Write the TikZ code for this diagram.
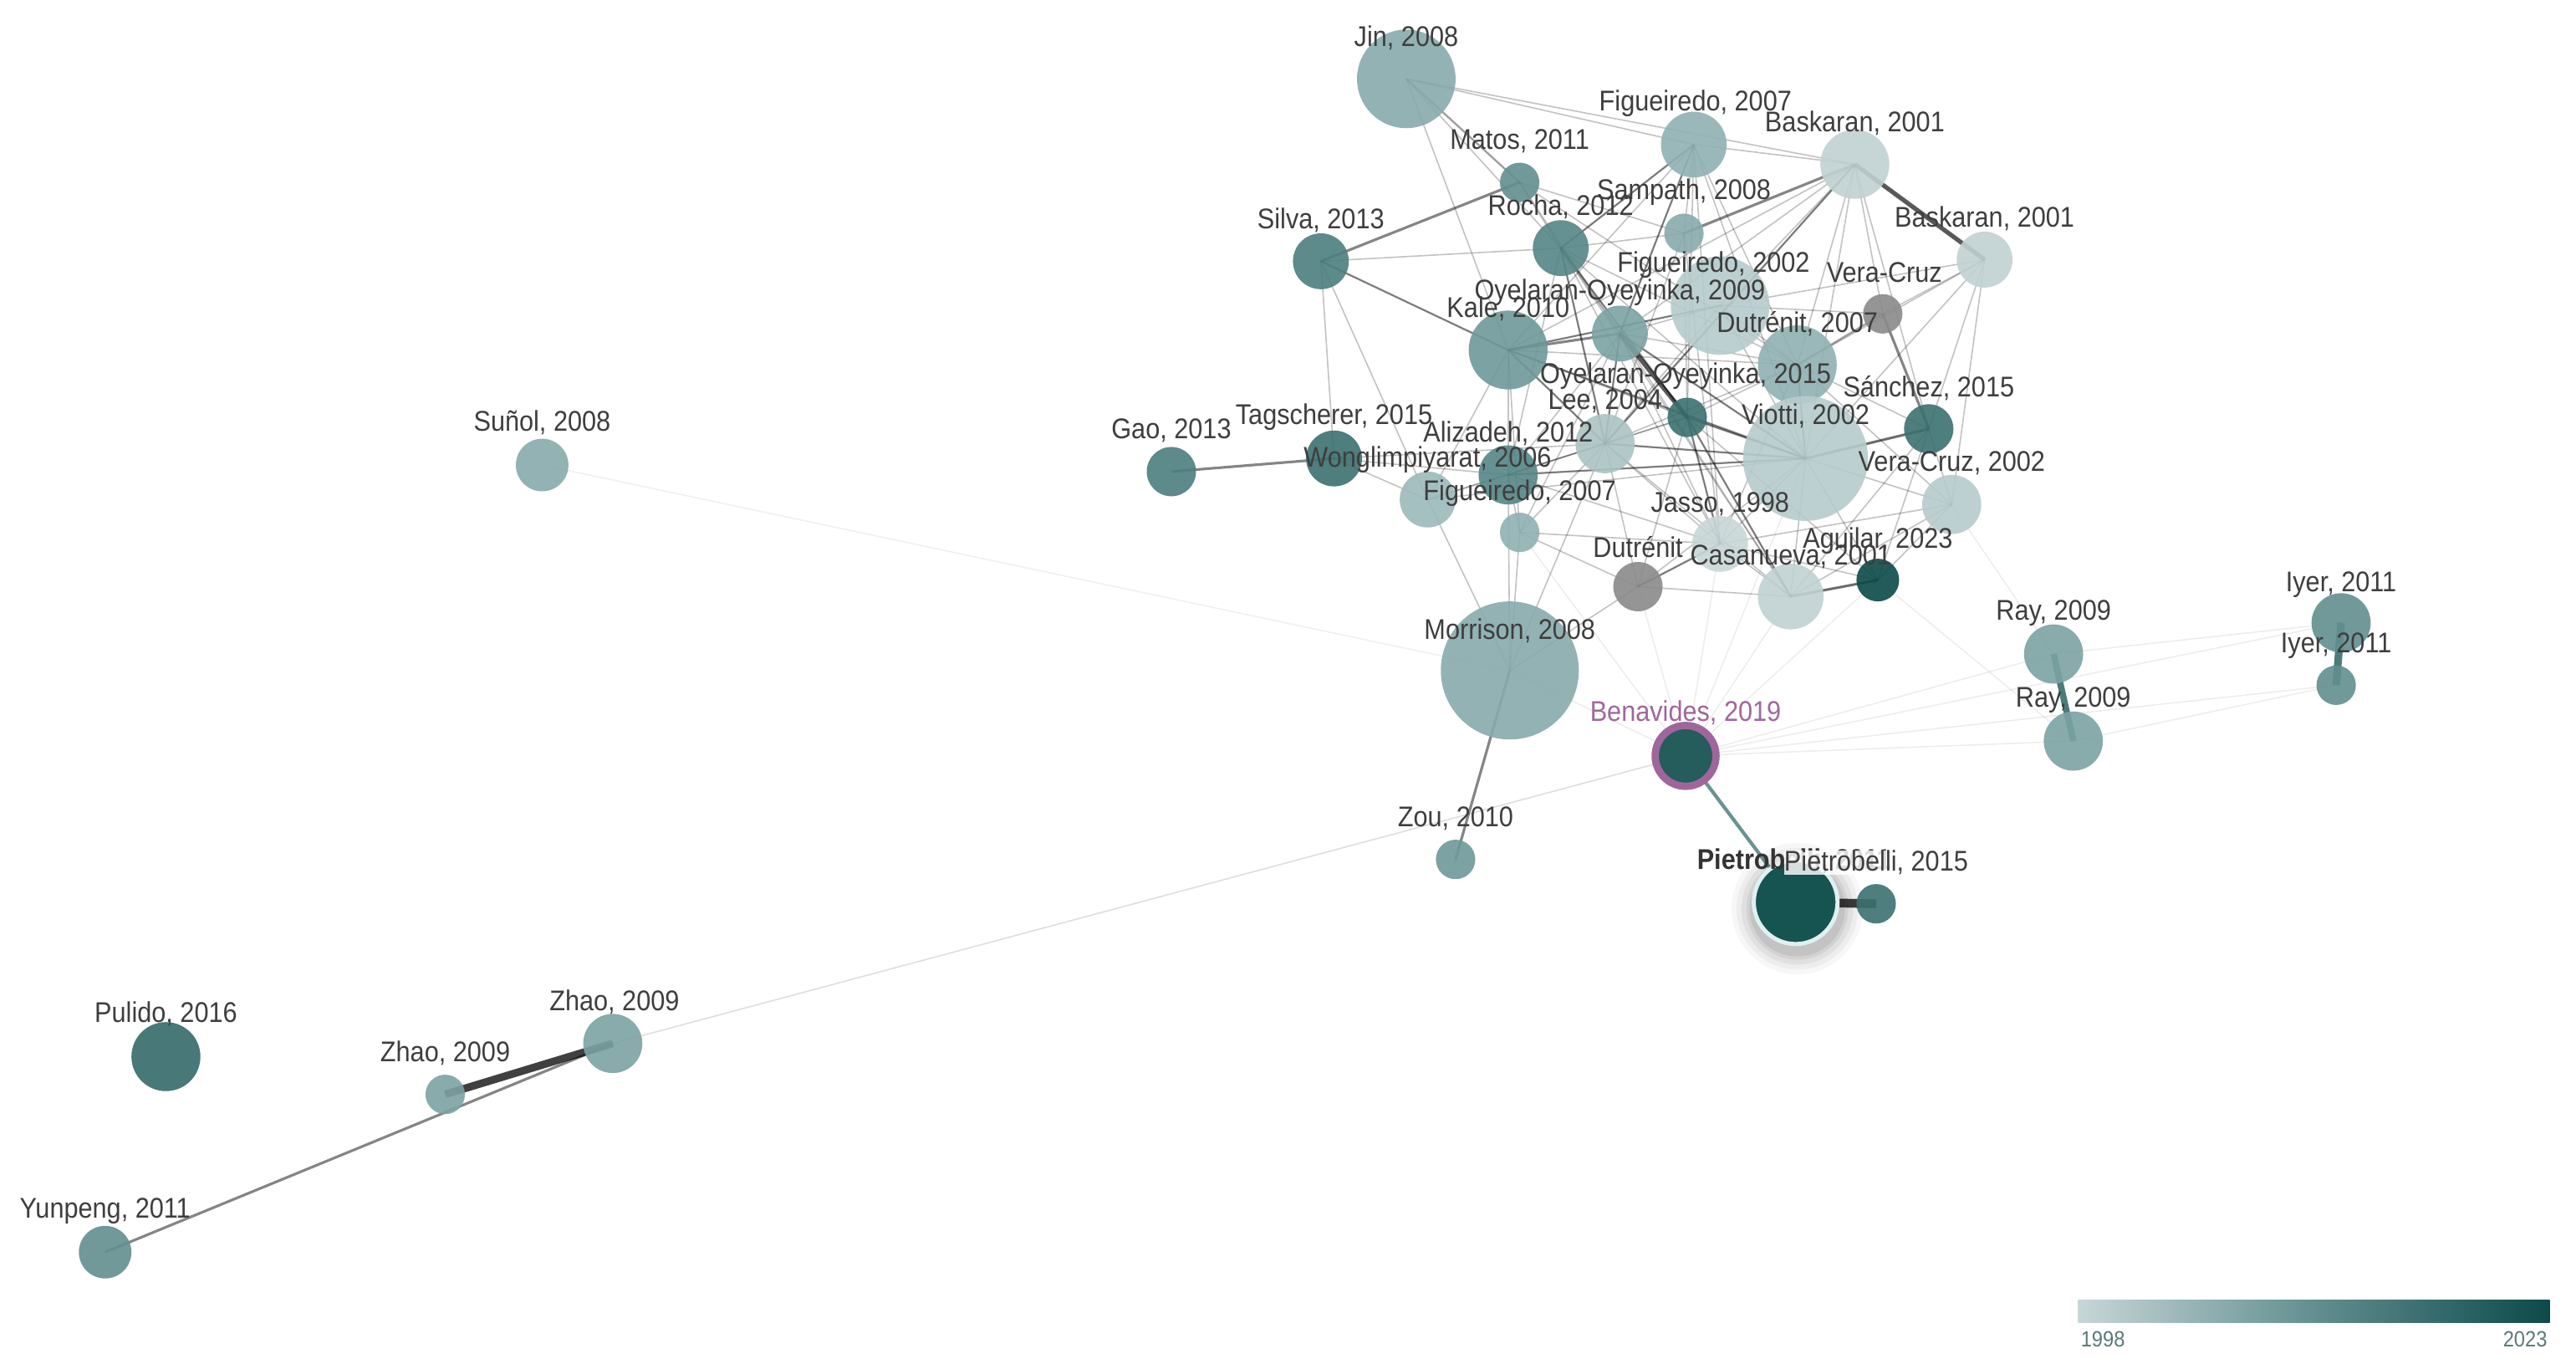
\documentclass[tikz,border=0pt]{standalone}
\usepackage{fontspec}
\setmainfont{Liberation Sans}[FakeStretch=0.9]
\usetikzlibrary{calc}
\pgfdeclarelayer{edgelayer}
\pgfdeclarelayer{glowlayer}
\pgfsetlayers{edgelayer,glowlayer,main}
\definecolor{y1998}{RGB}{200,214,215}
\definecolor{y2001}{RGB}{192,209,210}
\definecolor{y2002}{RGB}{182,203,204}
\definecolor{y2004}{RGB}{170,195,196}
\definecolor{y2006}{RGB}{156,186,187}
\definecolor{y2007}{RGB}{144,177,178}
\definecolor{y2008}{RGB}{136,170,171}
\definecolor{y2009}{RGB}{124,162,163}
\definecolor{y2010}{RGB}{110,152,153}
\definecolor{y2011}{RGB}{98,143,144}
\definecolor{y2012}{RGB}{86,134,135}
\definecolor{y2013}{RGB}{76,126,127}
\definecolor{y2015}{RGB}{60,112,113}
\definecolor{y2016}{RGB}{54,106,107}
\definecolor{y2019}{RGB}{36,93,92}
\definecolor{y2023}{RGB}{12,74,73}
\definecolor{pieC}{RGB}{22,84,81}
\definecolor{grayN}{RGB}{138,138,138}
\definecolor{labelC}{RGB}{62,62,62}
\definecolor{purpleC}{RGB}{160,102,156}
\definecolor{barTxt}{RGB}{90,122,122}
\definecolor{tealEdge}{RGB}{45,100,100}
\begin{document}
\begin{tikzpicture}[x=0.01965cm,y=-0.01965cm,
  pn/.style={circle, inner sep=0pt, minimum size=#1*0.0393cm, fill opacity=0.9, draw=none},
  lbl/.style={font=\fontsize{9.7}{11}\selectfont, text=labelC, inner sep=0pt},
  faint/.style={draw=black, line width=0.45pt, opacity=0.24},
  softe/.style={draw=black, line width=0.65pt, opacity=0.38},
  mide/.style={draw=black, line width=0.9pt, opacity=0.48},
  stronge/.style={draw=black, line width=1.5pt, opacity=0.65}]
\useasboundingbox (0,0) rectangle (1568,833);

% ---- nodes ----
\node[pn=30, fill=y2008] (jin) at (856,48) {};
\node[pn=20, fill=y2007] (fig07a) at (1031,88) {};
\node[pn=21, fill=y2001] (bas01a) at (1129,100) {};
\node[pn=12, fill=y2011] (matos) at (925,111) {};
\node[pn=12, fill=y2008] (samp) at (1025,142) {};
\node[pn=17, fill=y2012] (rocha) at (950,151) {};
\node[pn=17, fill=y2013] (silva) at (804,159) {};
\node[pn=17, fill=y2001] (bas01b) at (1208,158) {};
\node[pn=30, fill=y2002] (fig02) at (1047,186) {};
\node[pn=12, fill=grayN] (vcg) at (1146,191) {};
\node[pn=17, fill=y2009] (oye09) at (986,203) {};
\node[pn=24, fill=y2010] (kale) at (918,213) {};
\node[pn=24, fill=y2007] (dut07) at (1094,222) {};
\node[pn=12, fill=y2015] (oye15) at (1027,254) {};
\node[pn=18, fill=y2004] (lee) at (977,270) {};
\node[pn=15, fill=y2015] (sanc) at (1174,261) {};
\node[pn=38, fill=y2002] (viotti) at (1099,279) {};
\node[pn=18, fill=y2012] (aliz) at (918,289) {};
\node[pn=17, fill=y2015] (tag) at (812,279) {};
\node[pn=15, fill=y2013] (gao) at (713,287) {};
\node[pn=17, fill=y2006] (wong) at (869,304) {};
\node[pn=12, fill=y2007] (fig07b) at (925,324) {};
\node[pn=18, fill=y2002] (vc02) at (1188,307) {};
\node[pn=17, fill=y1998] (jasso) at (1047,331) {};
\node[pn=15, fill=grayN] (dutg) at (997,357) {};
\node[pn=20, fill=y2001] (casa) at (1090,363) {};
\node[pn=13, fill=y2023] (agui) at (1143,353) {};
\node[pn=42, fill=y2008] (morr) at (919,408) {};
\node[pn=18, fill=y2009] (ray1) at (1250,398) {};
\node[pn=18, fill=y2009] (ray2) at (1262,451) {};
\node[pn=18, fill=y2011] (iyer1) at (1425,379) {};
\node[pn=12, fill=y2011] (iyer2) at (1422,417) {};
\node[circle, inner sep=0pt, minimum size=37*0.0393cm/2, fill=y2019, draw=purpleC, line width=2.5pt] (bena) at (1026,460) {};
\node[pn=12, fill=y2010] (zou) at (886,523) {};
\node[circle, inner sep=0pt, minimum size=51*0.0393cm/2, fill=pieC, draw=white!88!teal, line width=1.4pt] (pie11) at (1093,549) {};
\node[pn=12, fill=y2015] (pie15) at (1142,550) {};
\node[pn=16, fill=y2008] (sunol) at (330,283) {};
\node[pn=21, fill=y2016] (pulido) at (101,643) {};
\node[pn=18, fill=y2009] (zhao1) at (373,635) {};
\node[pn=12, fill=y2009] (zhao2) at (271,666) {};
\node[pn=16, fill=y2011] (yun) at (64,762) {};

% ---- glow under the selected node ----
\begin{pgfonlayer}{glowlayer}
\foreach \r/\o in {40/0.03,37/0.04,34/0.05,31/0.06,29/0.07}
  \fill[black, opacity=\o] ($(pie11.center)+(1,4)$) circle (\r);
\end{pgfonlayer}

% ---- edges ----
\begin{pgfonlayer}{edgelayer}
\fill[white] (0,0) rectangle (1568,833);
\foreach \a/\b in {jin/fig07a, jin/bas01a, jin/rocha, jin/kale, silva/kale, silva/rocha, silva/tag, silva/wong,
  fig07a/rocha, fig07a/oye09, fig07a/samp, fig07a/kale, fig07a/viotti, fig07a/jasso, fig07a/oye15, fig07a/dut07, fig07a/bas01a,
  bas01a/fig02, bas01a/vcg, bas01a/lee, bas01a/viotti, bas01a/kale, bas01a/dut07, bas01a/sanc, bas01a/oye09,
  bas01b/vcg, bas01b/sanc, bas01b/vc02, bas01b/fig02, bas01b/dut07, bas01b/viotti,
  matos/rocha, matos/samp, matos/dut07, matos/oye09,
  samp/oye15, samp/lee, samp/rocha, samp/jasso,
  rocha/oye09, rocha/oye15, rocha/lee, rocha/viotti, rocha/dut07, rocha/aliz, rocha/jasso, rocha/casa,
  fig02/oye09, fig02/kale, fig02/viotti, fig02/vcg, fig02/lee, fig02/dut07,
  oye09/lee, oye09/viotti, oye09/aliz, oye09/dut07, oye09/fig07b, oye09/jasso, oye09/casa,
  kale/lee, kale/aliz, kale/viotti, kale/fig07b, kale/wong, kale/dut07, kale/oye15,
  dut07/oye15, dut07/viotti, dut07/jasso, dut07/sanc, dut07/lee, dut07/vc02,
  oye15/lee, oye15/viotti, oye15/jasso, oye15/casa, oye15/aliz, oye15/dutg, oye15/agui,
  lee/viotti, lee/aliz, lee/wong, lee/fig07b, lee/jasso, lee/dutg, lee/casa,
  viotti/sanc, viotti/vc02, viotti/jasso, viotti/casa, viotti/agui, viotti/aliz, viotti/wong, viotti/dutg,
  sanc/vc02, sanc/agui, sanc/casa, vc02/agui, vc02/jasso, vc02/casa,
  aliz/tag, aliz/wong, aliz/fig07b, aliz/jasso, tag/wong, tag/lee,
  fig07b/jasso, fig07b/morr, fig07b/dutg, jasso/dutg, jasso/casa, jasso/agui,
  dutg/casa, dutg/morr, casa/agui, morr/aliz, morr/wong, morr/lee}
  \draw[faint] (\a.center) -- (\b.center);
\foreach \a/\b in {bena/jasso, bena/dutg, bena/casa, bena/agui, bena/viotti, bena/morr, bena/ray2, bena/ray1,
  bena/iyer2, bena/iyer1, ray1/iyer1, ray2/iyer2, agui/ray2, vc02/ray1, bena/fig07b}
  \draw[faint, opacity=0.07] (\a.center) -- (\b.center);
\draw[faint, opacity=0.06] (sunol.center) -- (morr.center);
\draw[faint, opacity=0.13] (bena.center) -- (zhao1.center);
\foreach \a/\b in {jin/matos, silva/kale, fig07a/rocha, fig07a/oye09, bas01a/lee, oye09/lee, rocha/oye15,
  kale/viotti, lee/viotti, oye15/jasso, oye15/casa, dut07/viotti, aliz/viotti, vcg/dut07, fig02/kale, dutg/jasso,
  oye15/viotti, rocha/lee, kale/lee, oye09/viotti}
  \draw[softe] (\a.center) -- (\b.center);
\foreach \a/\b in {silva/matos, bas01a/samp, vcg/sanc, gao/tag, morr/zou, zhao1/yun, kale/oye09, agui/casa, sanc/viotti}
  \draw[mide] (\a.center) -- (\b.center);
\draw[stronge] (bas01a.center) -- (bas01b.center);
\draw[stronge] (oye09.center) -- (oye15.center);
\draw[stronge, line width=2.6pt, opacity=0.75] (zhao1.center) -- (zhao2.center);
\draw[draw=tealEdge, line width=1.2pt, opacity=0.7] (bena.center) -- (pie11.center);
\draw[draw=black, line width=3pt, opacity=0.75] (pie11.center) -- (pie15.center);
\draw[draw=tealEdge, line width=2.2pt, opacity=0.85] (ray1.center) -- (ray2.center);
\draw[draw=tealEdge, line width=2.6pt, opacity=0.85] (iyer1.center) -- (iyer2.center);
\end{pgfonlayer}

% ---- labels ----
\node[lbl] (jinL) at (856,23) {Jin, 2008};
\node[lbl] (fig07aL) at (1032,63) {Figueiredo, 2007};
\node[lbl] (bas01aL) at (1129,75) {Baskaran, 2001};
\node[lbl] (matosL) at (925,86) {Matos, 2011};
\node[lbl] (rochaL) at (950,126) {Rocha, 2012};
\node[lbl] (sampL) at (1025,117) {Sampath, 2008};
\node[lbl] (silvaL) at (804,134) {Silva, 2013};
\node[lbl] (bas01bL) at (1208,133) {Baskaran, 2001};
\node[lbl] (fig02L) at (1043,161) {Figueiredo, 2002};
\node[lbl] (vcgL) at (1147,166) {Vera-Cruz};
\node[lbl] (kaleL) at (918,188) {Kale, 2010};
\node[lbl] (oye09L) at (986,178) {Oyelaran-Oyeyinka, 2009};
\node[lbl] (dut07L) at (1094,197) {Dutrénit, 2007};
\node[lbl] (oye15L) at (1026,229) {Oyelaran-Oyeyinka, 2015};
\node[lbl] (leeL) at (977,244) {Lee, 2004};
\node[lbl] (sancL) at (1174,236) {Sánchez, 2015};
\node[lbl] (viottiL) at (1099,253) {Viotti, 2002};
\node[lbl] (tagL) at (812,254) {Tagscherer, 2015};
\node[lbl] (gaoL) at (713,262) {Gao, 2013};
\node[lbl] (alizL) at (918,264) {Alizadeh, 2012};
\node[lbl] (wongL) at (869,280) {Wonglimpiyarat, 2006};
\node[lbl] (vc02L) at (1188,282) {Vera-Cruz, 2002};
\node[lbl] (fig07bL) at (925,300) {Figueiredo, 2007};
\node[lbl] (jassoL) at (1047,307) {Jasso, 1998};
\node[lbl] (aguiL) at (1143,329) {Aguilar, 2023};
\node[lbl] (dutgL) at (997,333) {Dutrénit};
\node[lbl] (casaL) at (1090,339) {Casanueva, 2001};
\node[lbl] (morrL) at (919,384) {Morrison, 2008};
\node[lbl] (ray1L) at (1250,373) {Ray, 2009};
\node[lbl] (ray2L) at (1262,426) {Ray, 2009};
\node[lbl] (iyer1L) at (1425,356) {Iyer, 2011};
\node[lbl] (iyer2L) at (1422,393) {Iyer, 2011};
\node[lbl, text=purpleC] (benaL) at (1026,434) {Benavides, 2019};
\node[lbl] (zouL) at (886,498) {Zou, 2010};
\node[lbl, font=\fontsize{9.7}{11}\selectfont\bfseries, text=black!80] (pie11L) at (1092,524) {Pietrobelli, 2011};
\node[lbl, fill=white, fill opacity=0.82, text opacity=1] (pie15L) at (1142,525) {Pietrobelli, 2015};
\node[lbl] (sunolL) at (330,257) {Suñol, 2008};
\node[lbl] (pulidoL) at (101,617) {Pulido, 2016};
\node[lbl] (zhao1L) at (374,610) {Zhao, 2009};
\node[lbl] (zhao2L) at (271,641) {Zhao, 2009};
\node[lbl] (yunL) at (64,737) {Yunpeng, 2011};

% ---- colour bar ----
\shade[left color=y1998, right color=y2023, middle color=y2011] (1265,791) rectangle (1552,805);
\node[font=\fontsize{7.5}{9}\selectfont, text=barTxt, inner sep=0pt] (barL) at (1280,815) {1998};
\node[font=\fontsize{7.5}{9}\selectfont, text=barTxt, inner sep=0pt] (barR) at (1537,815) {2023};
\end{tikzpicture}
\end{document}
